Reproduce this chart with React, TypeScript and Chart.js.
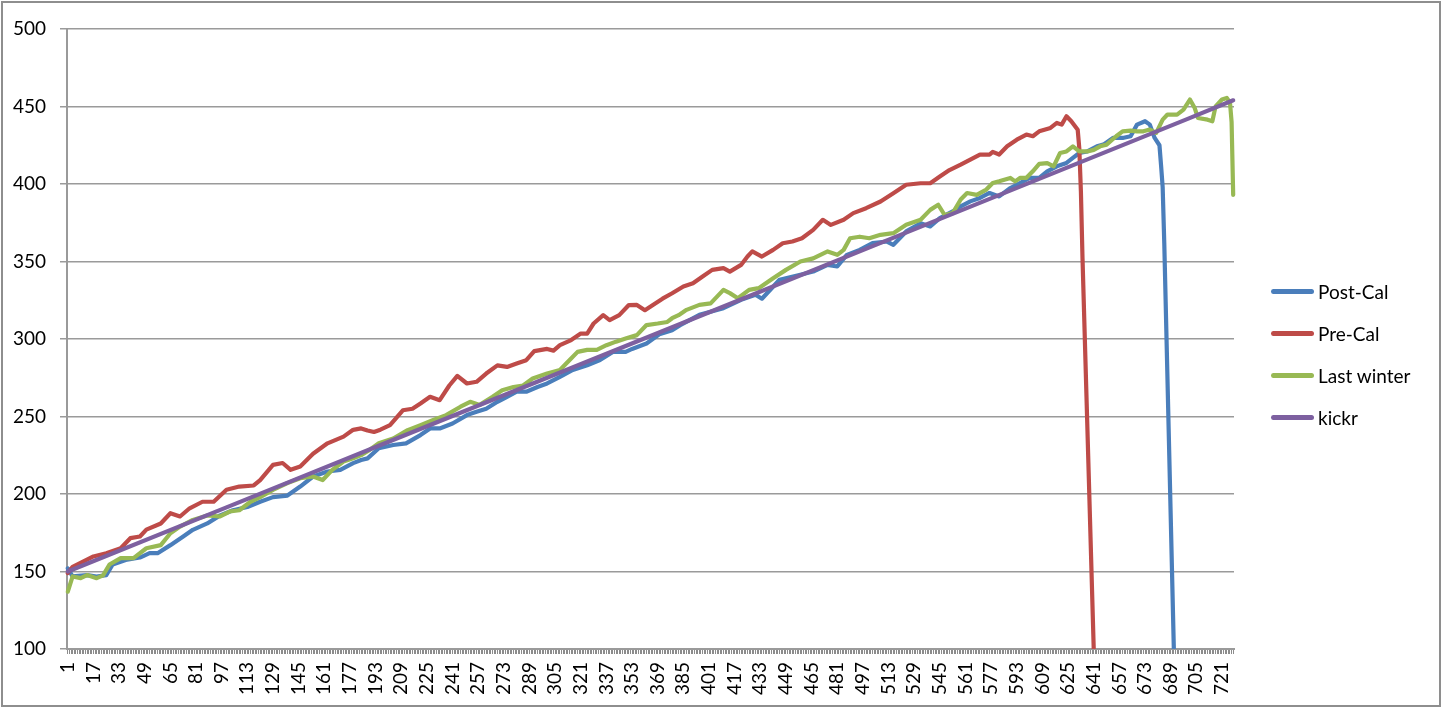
import React, { useEffect, useRef } from "react";
import { Chart, registerables } from "chart.js";

Chart.register(...registerables);

// ---- categories / ticks ----
const categoryCount = 728;
const categories: number[] = Array.from({ length: categoryCount }, (_, k) => k + 1);
const xTickLabels = [
  "1", "17", "33", "49", "65", "81", "97", "113", "129", "145", "161", "177", "193", "209", "225", "241",
  "257", "273", "289", "305", "321", "337", "353", "369", "385", "401", "417", "433", "449", "465", "481",
  "497", "513", "529", "545", "561", "577", "593", "609", "625", "641", "657", "673", "689", "705", "721",
];
const yTickValues = [100, 150, 200, 250, 300, 350, 400, 450, 500];

// ---- series (category index, value) ----
const postCalX = [1, 4, 13, 19, 25, 29, 38, 46, 52, 57, 65, 73, 79, 88, 96, 104, 113, 121, 129, 138, 146, 154, 163, 171, 179, 184, 188, 195, 204, 212, 221, 227, 233, 241, 250, 256, 262, 269, 275, 281, 287, 294, 300, 308, 316, 325, 333, 341, 349, 353, 362, 370, 378, 383, 395, 410, 421, 430, 434, 445, 458, 466, 475, 481, 487, 495, 503, 512, 516, 524, 533, 539, 545, 553, 558, 564, 570, 576, 582, 589, 595, 601, 607, 612, 618, 624, 628, 632, 637, 643, 647, 653, 659, 664, 668, 673, 676, 679, 682, 683, 684, 685, 692];
const postCalY = [152, 146.8, 147.7, 146.8, 147.7, 154.5, 157.7, 159, 161.8, 161.8, 167, 172.6, 176.9, 181, 186.2, 189.5, 191.6, 195, 198, 199, 204.8, 211.3, 214.5, 215.6, 219.9, 221.9, 223, 229.5, 231.6, 232.7, 238, 242.3, 242.3, 245.5, 250.9, 253, 255, 259.5, 262.7, 266, 266, 269, 271.3, 275.6, 280, 283, 286.4, 291.7, 291.7, 293.6, 297.1, 303, 305.7, 308.9, 315.6, 319.9, 325.3, 328.5, 326, 338.2, 341.4, 343.5, 347.8, 346.8, 354.3, 357.5, 361.8, 362.9, 360.8, 369.4, 374.7, 372.6, 378, 382.3, 385.6, 388.8, 391, 394.2, 392, 397.4, 400.6, 403.9, 403.9, 408.2, 411.4, 413.6, 416.8, 420, 421, 424.3, 425.4, 429.7, 429.7, 430.8, 438.3, 440.5, 438.3, 429.7, 425, 412, 398, 362, 55];

const preCalX = [1, 4, 17, 25, 34, 40, 46, 50, 59, 65, 71, 77, 85, 92, 100, 108, 117, 121, 129, 135, 140, 146, 154, 163, 173, 179, 184, 188, 192, 196, 202, 210, 216, 221, 227, 233, 239, 244, 250, 256, 262, 269, 275, 281, 287, 292, 300, 304, 308, 315, 321, 325, 329, 335, 339, 345, 351, 356, 361, 366, 372, 378, 385, 391, 397, 403, 410, 414, 421, 425, 428, 434, 441, 447, 453, 459, 466, 472, 477, 485, 491, 499, 508, 516, 524, 533, 539, 545, 551, 558, 564, 570, 576, 578, 582, 587, 593, 599, 603, 607, 614, 618, 621, 624, 627, 631, 632, 633, 634, 642];
const preCalY = [149, 153, 159.7, 161.8, 165, 171.5, 172.6, 177, 181, 187.6, 185.5, 190.8, 195, 195, 202.7, 204.8, 205.5, 209, 218.8, 220, 215.6, 217.8, 226, 232.7, 237, 241.4, 242.3, 241, 240, 241.5, 244.4, 254, 255, 258.4, 262.7, 260.5, 270, 276.2, 271.3, 272.4, 277.7, 283, 282, 284.2, 286.3, 292.2, 293.6, 292.5, 296, 299.3, 303.5, 303.5, 310, 315.4, 312.2, 315.4, 321.9, 322, 318.6, 322, 326, 329.5, 333.9, 336, 340.3, 344.6, 345.7, 343.5, 347.8, 353.2, 356.5, 353.2, 357.5, 361.8, 362.9, 365, 370.4, 376.9, 373.6, 376.9, 381.2, 384.4, 388.7, 394, 399.5, 400.5, 400.5, 404.8, 409, 412.5, 415.7, 419, 419, 420.7, 419, 424.3, 428.6, 431.9, 430.8, 434, 436.2, 439.4, 438.3, 443.7, 440.5, 435, 423, 395, 352, 64];

const lastWinterX = [1, 4, 9, 13, 19, 23, 27, 34, 42, 50, 59, 65, 71, 79, 88, 96, 102, 108, 115, 121, 129, 138, 146, 154, 160, 166, 173, 179, 184, 188, 192, 195, 204, 213, 221, 229, 237, 246, 252, 258, 266, 272, 279, 285, 291, 300, 308, 313, 319, 325, 331, 337, 343, 349, 356, 362, 369, 375, 378, 382, 387, 395, 402, 410, 414, 419, 426, 432, 441, 449, 458, 466, 475, 481, 485, 489, 495, 501, 508, 516, 524, 533, 539, 544, 548, 553, 558, 562, 568, 574, 578, 582, 589, 592, 595, 599, 603, 607, 612, 616, 620, 624, 628, 632, 637, 641, 645, 649, 655, 659, 664, 668, 672, 676, 680, 684, 687, 693, 697, 701, 704, 706, 712, 715, 717, 721, 724, 726, 727, 728];
const lastWinterY = [137, 146.8, 145.7, 147.7, 145.7, 147.5, 154.5, 158.6, 158.6, 165, 167, 174.7, 179, 183.3, 186.2, 185.5, 188.7, 189.5, 195, 198, 202.7, 207, 210.2, 211.3, 209, 215.6, 221, 223, 225.1, 227.6, 230.5, 232.7, 235.8, 241.2, 244.4, 247.7, 250.9, 256.3, 259.5, 257.5, 262.7, 267, 269, 270, 274.5, 277.7, 280, 285.3, 291.7, 293, 293, 296, 298.3, 300.3, 302.5, 309, 310, 311, 313.4, 315.4, 318.8, 322, 323, 331.7, 329.6, 326.3, 331.7, 332.8, 339.2, 344.6, 350, 352, 356.5, 354.3, 357.5, 365, 366, 365, 367.2, 368.3, 373.7, 376.9, 383.3, 386.6, 380, 381.2, 390, 394.2, 393, 396.4, 400.6, 401.7, 403.9, 401.7, 403.9, 404, 408.2, 413, 413.5, 411.4, 420, 421, 424.3, 421, 421, 422, 424.3, 425.4, 430.8, 434, 434.4, 434, 434, 435.1, 433, 441.5, 444.8, 444.8, 448, 454.5, 449, 442.6, 441.5, 440.5, 450.1, 454.5, 455.5, 452.5, 440, 393];

const kickrX = [1, 100, 200, 300, 400, 500, 600, 700, 728];
const kickrY = [150, 191.4, 233.2, 275, 316.8, 358.6, 400.4, 442.2, 454];

const seriesNames = ["Post-Cal", "Pre-Cal", "Last winter", "kickr"];
const seriesColors = ["#4A7EBB", "#BE4B48", "#98B954", "#7D60A0"];

const pts = (xs: number[], ys: number[]) => xs.map((x, k) => ({ x, y: ys[k] }));

const FONT = "Lato, 'Open Sans', sans-serif";

export default function App() {
  const canvasRef = useRef<HTMLCanvasElement | null>(null);

  useEffect(() => {
    if (!canvasRef.current) return;
    const labelSet = new Set(xTickLabels);
    const seriesData = [
      pts(postCalX, postCalY),
      pts(preCalX, preCalY),
      pts(lastWinterX, lastWinterY),
      pts(kickrX, kickrY),
    ];
    const chart = new Chart(canvasRef.current, {
      type: "line",
      data: {
        datasets: seriesNames.map((name, k) => ({
          label: name,
          data: seriesData[k],
          borderColor: seriesColors[k],
          backgroundColor: seriesColors[k],
          borderWidth: 4.2,
          pointRadius: 0,
          tension: 0,
          borderCapStyle: "round",
          borderJoinStyle: "round",
          fill: false,
          order: 4 - k,
          clip: { left: 5, top: 5, right: 5, bottom: 0 },
        })),
      },
      options: {
        animation: false,
        responsive: true,
        maintainAspectRatio: false,
        layout: { padding: { top: 29, right: 208, bottom: 0, left: 0 } },
        plugins: {
          legend: { display: false },
          tooltip: { enabled: false },
        },
        scales: {
          x: {
            type: "linear",
            min: 0.5,
            max: categoryCount + 0.5,
            afterBuildTicks: (s: any) => {
              s.ticks = categories.map((v) => ({ value: v }));
            },
            afterFit: (s: any) => {
              s.height = 60;
            },
            ticks: {
              autoSkip: false,
              minRotation: 90,
              maxRotation: 90,
              padding: 8,
              color: "#000",
              font: { family: FONT, size: 19 },
              callback: (v: any) => (labelSet.has(String(v)) ? String(v) : ""),
            },
            grid: {
              drawOnChartArea: false,
              drawTicks: true,
              tickLength: 5,
              color: "#8c8c8c",
              lineWidth: 1,
            },
            border: { display: true, color: "#9a9a9a", width: 2 },
          },
          y: {
            type: "linear",
            min: yTickValues[0],
            max: yTickValues[yTickValues.length - 1],
            afterFit: (s: any) => {
              s.width = 67;
            },
            ticks: {
              stepSize: yTickValues[1] - yTickValues[0],
              padding: 14,
              color: "#000",
              font: { family: FONT, size: 19 },
            },
            grid: {
              color: "#9a9a9a",
              lineWidth: 1.5,
              drawTicks: true,
              tickLength: 7,
            },
            border: { display: true, color: "#9a9a9a", width: 2 },
          },
        },
      },
    });
    return () => chart.destroy();
  }, []);

  const legendTops = [291, 333, 375, 417];

  return (
    <div style={{ position: "absolute", left: 0, top: 0, width: 1442, height: 709, background: "#fff" }}>
      <canvas ref={canvasRef} style={{ position: "absolute", left: 0, top: 0 }} />
      {seriesNames.map((name, k) => (
        <div
          key={name}
          style={{
            position: "absolute",
            left: 1271,
            top: legendTops[k] - 12,
            height: 24,
            display: "flex",
            alignItems: "center",
            fontFamily: FONT,
            fontSize: 19,
            color: "#000",
            whiteSpace: "nowrap",
          }}
        >
          <div style={{ width: 43, height: 5, borderRadius: 3, background: seriesColors[k], marginRight: 4 }} />
          <span>{name}</span>
        </div>
      ))}
      <div
        style={{
          position: "absolute",
          left: 1,
          top: 1,
          width: 1440,
          height: 706,
          boxSizing: "border-box",
          border: "2px solid #8e8e8e",
          pointerEvents: "none",
        }}
      />
    </div>
  );
}
